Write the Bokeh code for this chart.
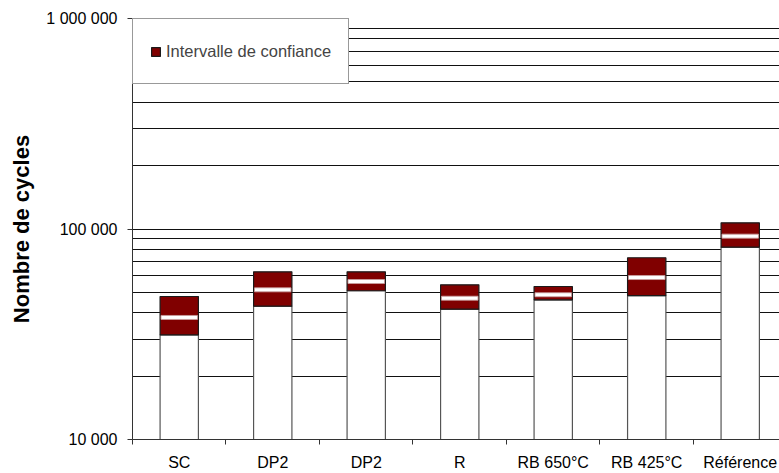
from bokeh.plotting import figure
from bokeh.models import FixedTicker, Legend, LegendItem, ColumnDataSource
from bokeh.embed import file_html
from bokeh.resources import INLINE

categories = ["SC", "DP2", "DP2", "R", "RB 650°C", "RB 425°C", "Référence"]
lower = [31400, 43000, 50900, 41600, 46100, 48200, 82000]
mean = [38000, 51400, 56300, 46900, 48700, 58800, 92500]
upper = [47800, 62600, 62600, 54300, 53300, 73000, 107000]
y_major = [10000, 100000, 1000000]
y_major_labels = ["10 000", "100 000", "1 000 000"]
y_minor = [k * 10000 for k in range(2, 10)] + [k * 100000 for k in range(2, 10)]
legend_label = "Intervalle de confiance"
y_title = "Nombre de cycles"

FONT = "Liberation Sans"
n = len(categories)
xs = [i + 0.5 for i in range(n)]
base = [y_major[0]] * n

p = figure(width=779, height=473, y_axis_type="log",
           x_range=(0, 6.92), y_range=(10000, 1000000),
           output_backend="svg", toolbar_location=None,
           min_border_left=132, min_border_right=0, min_border_top=18, min_border_bottom=34)
p.outline_line_color = None
p.background_fill_color = "white"

# grid
p.xgrid.visible = False
p.ygrid.grid_line_color = "#111111"
p.ygrid.grid_line_width = 1
p.ygrid.minor_grid_line_color = "#111111"
p.ygrid.minor_grid_line_width = 1

src = ColumnDataSource(dict(x=xs, base=base, lo=lower, mid=mean, hi=upper))
p.vbar(x="x", bottom="base", top="lo", width=0.41, source=src,
       fill_color="white", line_color="#555555", line_width=1.2)
r_ci = p.vbar(x="x", bottom="lo", top="hi", width=0.41, source=src,
              fill_color="#800000", line_color="#1a1a1a", line_width=1.2)
p.rect(x="x", y="mid", width=0.39, height=4, height_units="screen", source=src,
       fill_color="white", line_color="#c8a0a0", line_width=0.8)

# y axis
yax = p.yaxis[0]
yax.ticker = FixedTicker(ticks=y_major, minor_ticks=y_minor)
yax.major_label_overrides = {v: s for v, s in zip(y_major, y_major_labels)}
yax.major_tick_out = 5
yax.major_tick_in = 0
yax.minor_tick_out = 0
yax.minor_tick_in = 0
yax.axis_line_color = "#333333"
yax.major_tick_line_color = "#333333"
yax.major_label_text_font = FONT
yax.major_label_text_font_size = "16px"
yax.major_label_text_color = "black"
yax.major_label_standoff = 10
yax.axis_label = y_title
yax.axis_label_text_font = FONT
yax.axis_label_text_font_size = "22px"
yax.axis_label_text_font_style = "bold"
yax.axis_label_text_color = "black"
yax.axis_label_standoff = 9

# x axis
xax = p.xaxis[0]
xax.ticker = FixedTicker(ticks=xs, minor_ticks=list(range(n + 1)))
xax.major_label_overrides = {x: c for x, c in zip(xs, categories)}
xax.major_tick_line_color = None
xax.major_tick_out = 0
xax.major_tick_in = 0
xax.minor_tick_out = 5
xax.minor_tick_in = 0
xax.minor_tick_line_color = "#333333"
xax.axis_line_color = "#333333"
xax.major_label_text_font = FONT
xax.major_label_text_font_size = "16px"
xax.major_label_text_color = "black"
xax.major_label_standoff = 9

legend = Legend(items=[LegendItem(label=legend_label, renderers=[r_ci])],
                location="top_left", margin=0, padding=17,
                glyph_width=11, glyph_height=11, label_standoff=5, label_height=30,
                label_text_font=FONT, label_text_font_size="16.5px",
                border_line_color="#333333", border_line_width=1.2,
                background_fill_color="white", background_fill_alpha=1)
p.add_layout(legend, "center")

open("out.html", "w").write(file_html(p, INLINE))
